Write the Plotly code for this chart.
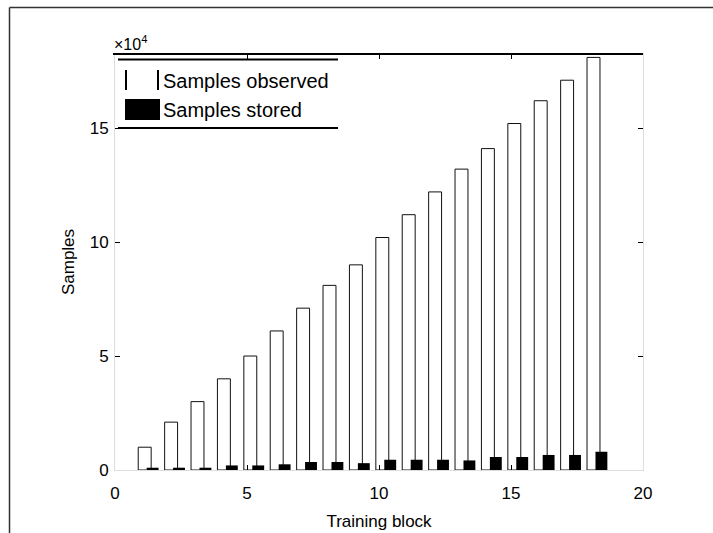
import plotly.graph_objects as go

# ---- data (values in units of 10^4 samples) ----
blocks = list(range(1, 19))
samples_observed = [1.0, 2.1, 3.0, 4.0, 5.0, 6.1, 7.1, 8.1, 9.0, 10.2, 11.2, 12.2, 13.2, 14.1, 15.2, 16.2, 17.1, 18.1]
samples_stored = [0.1, 0.1, 0.1, 0.2, 0.2, 0.25, 0.35, 0.35, 0.3, 0.45, 0.45, 0.45, 0.42, 0.57, 0.57, 0.66, 0.66, 0.8]
x_ticks = [0, 5, 10, 15, 20]
y_ticks = [0, 5, 10, 15]
legend_labels = ["Samples observed", "Samples stored"]
exponent_label = "×10<sup>4</sup>"

# ---- layout geometry (pixels) ----
W, H = 713, 533
L, R, T, B = 115, 643, 54, 470


def px(x):
    return (x - L) / (R - L)


def py(y):
    return (B - y) / (B - T)


FONT = "Liberation Sans, Arial, Helvetica, sans-serif"

fig = go.Figure()
fig.add_trace(go.Bar(
    x=blocks, y=samples_observed, name=legend_labels[0],
    offset=-0.12, width=0.49,
    marker=dict(color="white", line=dict(color="#111111", width=1)),
    showlegend=False,
))
fig.add_trace(go.Bar(
    x=blocks, y=samples_stored, name=legend_labels[1],
    offset=0.2, width=0.45,
    marker=dict(color="black", line=dict(color="black", width=0)),
    showlegend=False,
))

shapes = []
# outer frame (top and left edges visible)
shapes.append(dict(type="line", xref="paper", yref="paper",
                   x0=px(9.5), x1=px(720), y0=py(7.5), y1=py(7.5),
                   line=dict(color="#333333", width=1.5)))
shapes.append(dict(type="line", xref="paper", yref="paper",
                   x0=px(9.5), x1=px(9.5), y0=py(7.5), y1=py(540),
                   line=dict(color="#333333", width=1.5)))
# top axis line
shapes.append(dict(type="line", xref="paper", yref="paper",
                   x0=px(113), x1=px(643), y0=py(54), y1=py(54),
                   line=dict(color="black", width=2)))
# legend box lines
shapes.append(dict(type="line", xref="paper", yref="paper",
                   x0=px(118), x1=px(338), y0=py(59.5), y1=py(59.5),
                   line=dict(color="black", width=2)))
shapes.append(dict(type="line", xref="paper", yref="paper",
                   x0=px(118), x1=px(338), y0=py(128), y1=py(128),
                   line=dict(color="black", width=2)))
# legend symbols
shapes.append(dict(type="line", xref="paper", yref="paper",
                   x0=px(126), x1=px(126), y0=py(70), y1=py(90),
                   line=dict(color="black", width=2)))
shapes.append(dict(type="line", xref="paper", yref="paper",
                   x0=px(158), x1=px(158), y0=py(70), y1=py(90),
                   line=dict(color="black", width=2)))
shapes.append(dict(type="rect", xref="paper", yref="paper",
                   x0=px(125), x1=px(160), y0=py(99), y1=py(120),
                   fillcolor="black", line=dict(width=0)))

annotations = [
    dict(text=legend_labels[0], xref="paper", yref="paper", x=px(161), y=py(81),
         xanchor="left", yanchor="middle", showarrow=False,
         font=dict(family=FONT, size=20, color="black")),
    dict(text=legend_labels[1], xref="paper", yref="paper", x=px(161), y=py(110),
         xanchor="left", yanchor="middle", showarrow=False,
         font=dict(family=FONT, size=20, color="black")),
    dict(text=exponent_label, xref="paper", yref="paper", x=px(112), y=py(55),
         xanchor="left", yanchor="bottom", showarrow=False,
         font=dict(family=FONT, size=16, color="black")),
]

axis_common = dict(
    showline=True, linecolor="#dddddd", linewidth=1, mirror="ticks",
    ticks="inside", ticklen=5, tickcolor="black", tickwidth=1,
    showgrid=False, zeroline=False, automargin=False,
    tickfont=dict(family=FONT, size=17, color="black"),
)

fig.update_layout(
    width=W, height=H,
    margin=dict(l=L, r=W - R, t=T, b=H - B),
    paper_bgcolor="white", plot_bgcolor="white",
    barmode="overlay",
    xaxis=dict(range=[0, 20], tickvals=x_ticks, ticktext=[str(v) for v in x_ticks],
               ticklabelstandoff=8,
               title=dict(text="Training block", font=dict(family=FONT, size=17, color="black"), standoff=12),
               **axis_common),
    yaxis=dict(range=[0, 18.25], tickvals=y_ticks, ticktext=[str(v) for v in y_ticks],
               ticklabelstandoff=2,
               title=dict(text="Samples", font=dict(family=FONT, size=17, color="black"), standoff=10),
               **axis_common),
    shapes=shapes,
    annotations=annotations,
    showlegend=False,
)

fig.write_html("out.html", config={"displayModeBar": False},
               post_script="document.body.style.margin='0px';")
